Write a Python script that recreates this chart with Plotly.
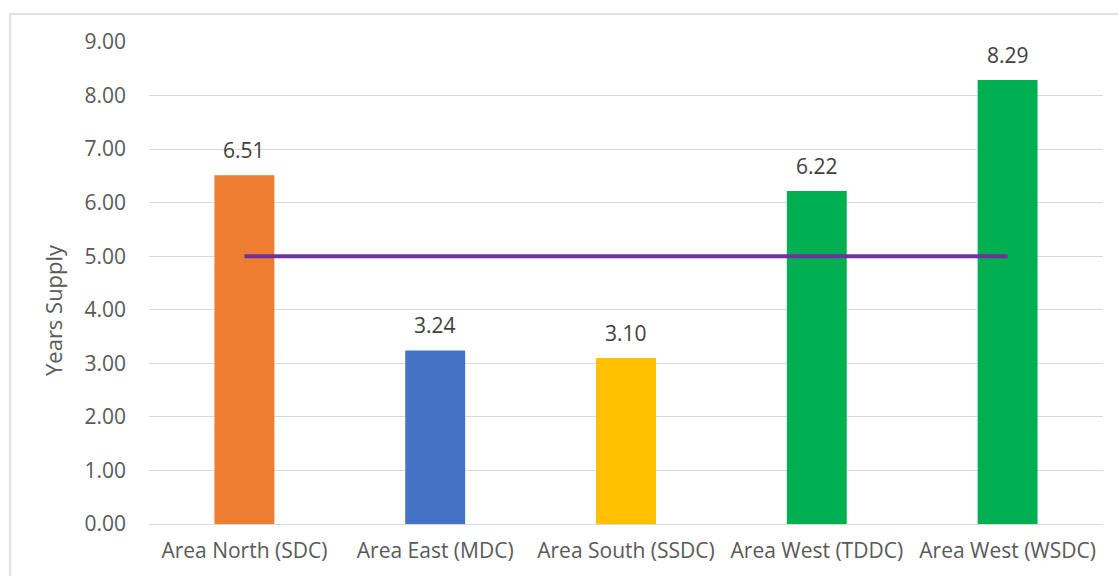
import plotly.graph_objects as go

categories = ["Area North (SDC)", "Area East (MDC)", "Area South (SSDC)", "Area West (TDDC)", "Area West (WSDC)"]
values = [6.51, 3.24, 3.10, 6.22, 8.29]
bar_colors = ["#ED7D31", "#4472C4", "#FFC000", "#00B050", "#00B050"]
target = [5, 5, 5, 5, 5]
y_ticks = [0, 1, 2, 3, 4, 5, 6, 7, 8, 9]
y_title = "Years Supply"

W, H = 1118, 576
L, R, T, B = 149, 15, 42, 52
pw, ph = W - L - R, H - T - B
FONT = "Open Sans, sans-serif"
FS = 21

fig = go.Figure()
fig.add_trace(go.Bar(x=categories, y=values, marker=dict(color=bar_colors, line=dict(width=0)),
                     showlegend=False, hoverinfo="skip"))
fig.add_trace(go.Scatter(x=categories, y=target, mode="lines",
                         line=dict(color="#7030A0", width=4), showlegend=False, hoverinfo="skip"))

for c, v in zip(categories, values):
    fig.add_annotation(x=c, y=v, text=f"{v:.2f}", showarrow=False, yanchor="bottom",
                       yshift=9, font=dict(family=FONT, size=FS, color="#404040"))

fig.add_annotation(xref="paper", yref="paper", x=(53 - L) / pw, y=(H - B - 310) / ph,
                   text=y_title, textangle=-90, showarrow=False, xanchor="center", yanchor="middle",
                   font=dict(family=FONT, size=22, color="#595959"))

fig.update_layout(
    width=W, height=H,
    margin=dict(l=L, r=R, t=T, b=B),
    paper_bgcolor="white", plot_bgcolor="white",
    bargap=0.686,
    font=dict(family=FONT, color="#595959"),
    xaxis=dict(showgrid=False, tickfont=dict(size=FS, color="#595959"), ticks="",
               ticklabelstandoff=12, showline=False, fixedrange=True),
    yaxis=dict(range=[0, 9], tickvals=y_ticks, ticktext=[f"{t:.2f}" for t in y_ticks],
               showgrid=True, gridcolor="#D9D9D9", gridwidth=1.3, zeroline=True,
               zerolinecolor="#D9D9D9", zerolinewidth=1.3,
               tickfont=dict(size=FS, color="#595959"), ticklabelstandoff=22,
               fixedrange=True),
    shapes=[dict(type="rect", xref="paper", yref="paper",
                 x0=(10 - L) / pw, x1=(W + 5 - L) / pw,
                 y0=(H - B - (H + 5)) / ph, y1=(H - B - 14) / ph,
                 line=dict(color="#D9D9D9", width=1.5), layer="below")],
)

fig.write_html("out.html")
